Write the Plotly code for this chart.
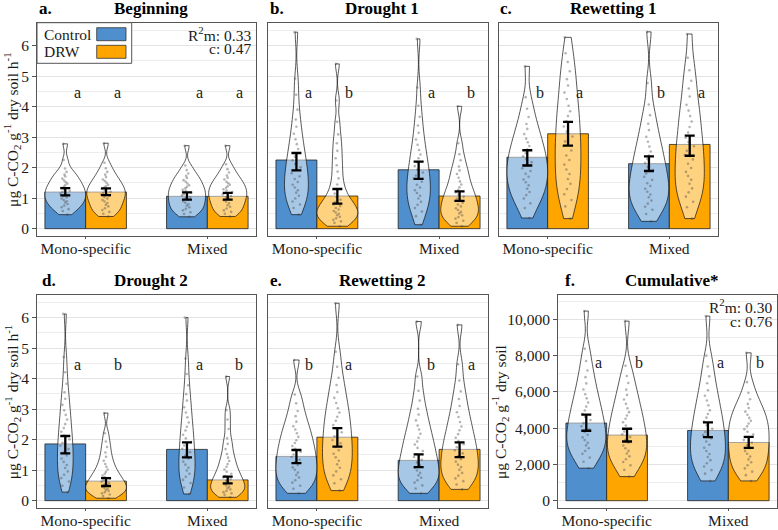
import plotly.graph_objects as go

# ---------------- data ----------------
groups = ["Mono-specific", "Mixed"]
treatments = ["Control", "DRW"]
panel_titles = ["Beginning", "Drought 1", "Rewetting 1", "Drought 2", "Rewetting 2", "Cumulative*"]
panel_tags = ["a.", "b.", "c.", "d.", "e.", "f."]

# bar heights (means) per panel a..f
ctrl_mono_mean = [1.20, 2.25, 2.34, 1.86, 1.45, 4283]
ctrl_mixed_mean = [1.06, 1.93, 2.13, 1.68, 1.32, 3874]
drw_mono_mean = [1.20, 1.07, 3.11, 0.64, 2.08, 3619]
drw_mixed_mean = [1.06, 1.07, 2.76, 0.68, 1.68, 3210]
# error bar limits
ctrl_mono_lo = [1.09, 1.91, 2.07, 1.55, 1.23, 3857]
ctrl_mono_hi = [1.33, 2.48, 2.57, 2.12, 1.66, 4743]
ctrl_mixed_lo = [0.95, 1.63, 1.89, 1.42, 1.10, 3509]
ctrl_mixed_hi = [1.19, 2.20, 2.37, 1.91, 1.52, 4317]
drw_mono_lo = [1.10, 0.82, 2.72, 0.48, 1.77, 3265]
drw_mono_hi = [1.32, 1.30, 3.50, 0.74, 2.38, 3968]
drw_mixed_lo = [0.95, 0.91, 2.39, 0.57, 1.43, 2917]
drw_mixed_hi = [1.17, 1.22, 3.05, 0.79, 1.91, 3525]

ctrl_letter = ["a", "a", "b", "a", "b", "a"]
drw_letter = ["a", "b", "a", "b", "a", "b"]
letter_y = [4.47, 4.47, 4.47, 4.47, 4.47, 7600]

r2_text = {0: ("0.33", "0.47"), 5: ("0.30", "0.76")}

# individual observations (read approximately from the violins / jittered points)
a_mono_ctrl = [0.46, 0.58, 0.64, 0.70, 0.76, 0.81, 0.86, 0.90, 0.94, 0.99, 1.03, 1.07, 1.11, 1.15, 1.20,
               1.24, 1.28, 1.33, 1.37, 1.42, 1.47, 1.52, 1.58, 1.64, 1.71, 1.77, 1.86, 1.97, 2.25, 2.78]
a_mono_drw = [0.40, 0.49, 0.55, 0.61, 0.67, 0.73, 0.78, 0.84, 0.89, 0.94, 0.99, 1.04, 1.08, 1.12, 1.17,
              1.21, 1.25, 1.30, 1.35, 1.39, 1.44, 1.50, 1.56, 1.61, 1.69, 1.77, 1.86, 1.98, 2.16, 2.80]
a_mixed_ctrl = [0.39, 0.48, 0.54, 0.60, 0.65, 0.70, 0.75, 0.80, 0.85, 0.90, 0.95, 0.99, 1.04, 1.09, 1.13,
                1.18, 1.23, 1.27, 1.32, 1.37, 1.42, 1.48, 1.54, 1.59, 1.66, 1.73, 1.81, 1.92, 2.07, 2.72]
a_mixed_drw = [0.40, 0.49, 0.55, 0.60, 0.66, 0.72, 0.77, 0.83, 0.88, 0.93, 0.98, 1.02, 1.07, 1.12, 1.16,
               1.20, 1.25, 1.29, 1.34, 1.39, 1.44, 1.49, 1.54, 1.61, 1.67, 1.74, 1.84, 1.95, 2.11, 2.72]

b_mono_ctrl = [0.46, 0.68, 0.79, 0.89, 0.99, 1.08, 1.18, 1.26, 1.35, 1.44, 1.53, 1.63, 1.72, 1.82, 1.91,
               2.01, 2.12, 2.24, 2.36, 2.47, 2.61, 2.77, 2.93, 3.11, 3.34, 3.58, 3.90, 4.39, 4.92, 6.44]
b_mono_drw = [0.08, 0.19, 0.24, 0.29, 0.34, 0.39, 0.44, 0.49, 0.53, 0.58, 0.63, 0.68, 0.74, 0.79, 0.87,
              0.95, 1.04, 1.15, 1.30, 1.45, 1.65, 1.87, 2.08, 2.31, 2.55, 2.80, 3.09, 3.50, 4.20, 5.40]
b_mixed_ctrl = [0.13, 0.41, 0.56, 0.68, 0.78, 0.88, 0.99, 1.08, 1.17, 1.26, 1.35, 1.44, 1.54, 1.64, 1.74,
                1.84, 1.94, 2.05, 2.18, 2.31, 2.43, 2.58, 2.75, 2.92, 3.14, 3.38, 3.67, 4.03, 4.63, 6.22]
b_mixed_drw = [0.08, 0.19, 0.26, 0.33, 0.38, 0.44, 0.50, 0.55, 0.61, 0.67, 0.73, 0.79, 0.85, 0.91, 0.98,
               1.05, 1.12, 1.19, 1.27, 1.36, 1.45, 1.55, 1.67, 1.79, 1.91, 2.04, 2.24, 2.44, 2.80, 4.01]

c_mono_ctrl = [0.35, 0.68, 0.83, 0.99, 1.10, 1.20, 1.31, 1.42, 1.52, 1.61, 1.70, 1.80, 1.89, 1.98, 2.08,
               2.18, 2.28, 2.37, 2.47, 2.59, 2.71, 2.83, 2.95, 3.10, 3.27, 3.43, 3.66, 3.93, 4.31, 5.32]
c_mono_drw = [0.33, 0.73, 0.94, 1.13, 1.30, 1.47, 1.63, 1.79, 1.94, 2.10, 2.25, 2.40, 2.56, 2.71, 2.86,
              3.02, 3.18, 3.35, 3.52, 3.69, 3.85, 4.03, 4.25, 4.46, 4.69, 4.90, 5.16, 5.46, 5.75, 6.27]
c_mixed_ctrl = [0.24, 0.48, 0.62, 0.72, 0.82, 0.92, 1.03, 1.12, 1.21, 1.31, 1.40, 1.49, 1.60, 1.70, 1.81,
                1.92, 2.02, 2.15, 2.28, 2.40, 2.53, 2.69, 2.85, 3.01, 3.23, 3.44, 3.72, 4.07, 4.77, 6.45]
c_mixed_drw = [0.33, 0.70, 0.88, 1.05, 1.19, 1.32, 1.47, 1.60, 1.73, 1.86, 1.99, 2.13, 2.27, 2.41, 2.55,
               2.70, 2.84, 2.98, 3.15, 3.33, 3.51, 3.69, 3.87, 4.06, 4.33, 4.59, 4.85, 5.19, 5.60, 6.38]

d_mono_ctrl = [0.28, 0.49, 0.63, 0.74, 0.85, 0.96, 1.07, 1.17, 1.27, 1.38, 1.48, 1.58, 1.69, 1.80, 1.90,
               2.01, 2.13, 2.26, 2.38, 2.51, 2.66, 2.81, 2.96, 3.14, 3.34, 3.55, 3.83, 4.21, 4.71, 6.12]
d_mono_drw = [0.08, 0.15, 0.20, 0.24, 0.28, 0.32, 0.35, 0.39, 0.42, 0.46, 0.50, 0.54, 0.58, 0.62, 0.67,
              0.72, 0.77, 0.82, 0.88, 0.95, 1.02, 1.11, 1.20, 1.31, 1.44, 1.58, 1.76, 1.94, 2.21, 2.87]
d_mixed_ctrl = [0.22, 0.43, 0.58, 0.68, 0.78, 0.88, 0.99, 1.08, 1.18, 1.28, 1.38, 1.48, 1.59, 1.70, 1.81,
                1.92, 2.04, 2.16, 2.30, 2.42, 2.56, 2.73, 2.89, 3.06, 3.28, 3.49, 3.78, 4.15, 4.66, 6.00]
d_mixed_drw = [0.11, 0.19, 0.24, 0.28, 0.32, 0.37, 0.41, 0.46, 0.50, 0.55, 0.59, 0.65, 0.70, 0.76, 0.81,
               0.88, 0.95, 1.02, 1.11, 1.20, 1.30, 1.41, 1.53, 1.69, 1.86, 2.04, 2.35, 2.66, 2.97, 4.07]

e_mono_ctrl = [0.24, 0.39, 0.49, 0.59, 0.67, 0.76, 0.84, 0.92, 1.01, 1.09, 1.17, 1.26, 1.34, 1.43, 1.51,
               1.60, 1.70, 1.79, 1.89, 1.98, 2.09, 2.21, 2.33, 2.44, 2.59, 2.77, 2.94, 3.19, 3.48, 4.61]
e_mono_drw = [0.33, 0.57, 0.70, 0.83, 0.96, 1.08, 1.19, 1.31, 1.42, 1.54, 1.65, 1.76, 1.88, 1.99, 2.11,
              2.24, 2.36, 2.48, 2.62, 2.75, 2.89, 3.03, 3.20, 3.37, 3.56, 3.79, 4.03, 4.39, 4.88, 6.47]
e_mixed_ctrl = [0.24, 0.40, 0.50, 0.59, 0.67, 0.75, 0.83, 0.91, 0.99, 1.08, 1.17, 1.25, 1.34, 1.43, 1.52,
                1.63, 1.73, 1.84, 1.94, 2.06, 2.19, 2.33, 2.46, 2.63, 2.82, 3.01, 3.28, 3.60, 4.07, 5.87]
e_mixed_drw = [0.37, 0.53, 0.64, 0.73, 0.82, 0.91, 1.01, 1.10, 1.18, 1.28, 1.36, 1.45, 1.55, 1.65, 1.75,
               1.85, 1.95, 2.06, 2.18, 2.31, 2.43, 2.58, 2.74, 2.90, 3.10, 3.33, 3.58, 3.94, 4.47, 5.76]

f_mono_ctrl = [1793, 2149, 2385, 2585, 2741, 2896, 3053, 3197, 3342, 3491, 3640, 3788, 3941, 4104, 4276,
               4453, 4625, 4797, 4974, 5190, 5415, 5646, 5871, 6137, 6471, 6814, 7185, 7708, 8378, 10460]
f_mono_drw = [1328, 1702, 1948, 2130, 2288, 2447, 2601, 2746, 2890, 3042, 3195, 3349, 3507, 3660, 3814,
              3972, 4149, 4331, 4519, 4702, 4884, 5096, 5341, 5585, 5837, 6124, 6494, 6876, 7440, 9906]
f_mixed_ctrl = [1090, 1492, 1686, 1884, 2066, 2235, 2408, 2577, 2745, 2918, 3089, 3263, 3442, 3616, 3789,
                3968, 4167, 4370, 4580, 4784, 4988, 5258, 5524, 5790, 6093, 6477, 6860, 7400, 8000, 10183]
f_mixed_drw = [1090, 1410, 1601, 1782, 1957, 2117, 2277, 2432, 2587, 2746, 2901, 3054, 3205, 3353, 3500,
               3652, 3799, 3946, 4101, 4252, 4404, 4568, 4740, 4911, 5115, 5338, 5594, 5948, 6538, 8157]

raw = [
    (a_mono_ctrl, a_mixed_ctrl, a_mono_drw, a_mixed_drw),
    (b_mono_ctrl, b_mixed_ctrl, b_mono_drw, b_mixed_drw),
    (c_mono_ctrl, c_mixed_ctrl, c_mono_drw, c_mixed_drw),
    (d_mono_ctrl, d_mixed_ctrl, d_mono_drw, d_mixed_drw),
    (e_mono_ctrl, e_mixed_ctrl, e_mono_drw, e_mixed_drw),
    (f_mono_ctrl, f_mixed_ctrl, f_mono_drw, f_mixed_drw),
]
# kernel bandwidths (mono ctrl, mixed ctrl, mono drw, mixed drw) per panel
bandwidths = [
    (0.16, 0.16, 0.16, 0.16),
    (0.38, 0.36, 0.24, 0.22),
    (0.38, 0.38, 0.48, 0.42),
    (0.35, 0.33, 0.17, 0.18),
    (0.26, 0.26, 0.38, 0.30),
    (600, 650, 600, 520),
]

# ---------------- styling / layout ----------------
W, H = 778, 530
FONT = "Liberation Serif, Times New Roman, serif"
COL = {"Control": "#4F8FCD", "DRW": "#FFA500"}
BORDER = "#555555"
TXT = "#1a1a1a"
GAP = 0.33

xdom_px = [(37, 256), (268, 488), (499, 718), (37, 256), (268, 488), (558, 777)]
ydom_px = [(22.7, 236), (22.7, 236), (22.7, 236), (295.3, 508.3), (295.3, 508.3), (295.3, 508.3)]
yranges = [[-0.24, 6.75]] * 3 + [[-0.25, 6.73]] * 2 + [[-420, 11330]]


def px(x):
    return x / W


def py(y):
    return 1 - y / H


fig = go.Figure()
annotations = []
shapes = []

for i in range(6):
    n = i + 1
    xa = "x" if n == 1 else f"x{n}"
    ya = "y" if n == 1 else f"y{n}"
    ag = f"p{n}"
    means = {"Control": [ctrl_mono_mean[i], ctrl_mixed_mean[i]],
             "DRW": [drw_mono_mean[i], drw_mixed_mean[i]]}
    los = {"Control": [ctrl_mono_lo[i], ctrl_mixed_lo[i]], "DRW": [drw_mono_lo[i], drw_mixed_lo[i]]}
    his = {"Control": [ctrl_mono_hi[i], ctrl_mixed_hi[i]], "DRW": [drw_mono_hi[i], drw_mixed_hi[i]]}

    for trt in treatments:
        fig.add_trace(go.Bar(x=groups, y=means[trt], name=trt, showlegend=False,
                             alignmentgroup=ag, offsetgroup=trt,
                             marker=dict(color=COL[trt], line=dict(color="#222222", width=0.8)),
                             xaxis=xa, yaxis=ya, hoverinfo="skip"))
    for j, (trt, g) in enumerate([("Control", groups[0]), ("Control", groups[1]),
                                  ("DRW", groups[0]), ("DRW", groups[1])]):
        v = raw[i][j]
        fig.add_trace(go.Violin(
            x=[g] * len(v), y=v, name=trt, showlegend=False, xaxis=xa, yaxis=ya,
            alignmentgroup=ag, offsetgroup=trt, bandwidth=bandwidths[i][j],
            scalegroup=ag, scalemode="width", spanmode="hard",
            fillcolor="rgba(255,255,255,0.5)", line=dict(color="#111111", width=0.7),
            points="all", pointpos=0, jitter=0.25,
            marker=dict(size=2.6, color="rgba(70,70,70,0.4)"),
            box_visible=False, meanline_visible=False, hoveron="points"))
    for trt in treatments:
        m = means[trt]
        fig.add_trace(go.Scatter(
            x=groups, y=m, mode="markers", name=trt, showlegend=False, xaxis=xa, yaxis=ya,
            alignmentgroup=ag, offsetgroup=trt,
            marker=dict(size=1, color="rgba(0,0,0,0)"),
            error_y=dict(type="data", symmetric=False,
                         array=[his[trt][k] - m[k] for k in range(2)],
                         arrayminus=[m[k] - los[trt][k] for k in range(2)],
                         color="black", thickness=2.3, width=5)))

    # letters
    for k, g in enumerate(groups):
        annotations.append(dict(x=g, y=letter_y[i], xref=xa, yref=ya, text=ctrl_letter[i], showarrow=False,
                                xshift=-8, font=dict(family=FONT, size=16, color=TXT)))
        annotations.append(dict(x=g, y=letter_y[i], xref=xa, yref=ya, text=drw_letter[i], showarrow=False,
                                xshift=32, font=dict(family=FONT, size=16, color=TXT)))

    x0, x1 = xdom_px[i]
    y0, y1 = ydom_px[i]
    show_y = i in (0, 3, 5)
    fig.layout[f"xaxis{n if n > 1 else ''}"] = dict(
        domain=[px(x0), px(x1)], anchor=ya, type="category", categoryorder="array", categoryarray=groups,
        range=[-0.4, 1.4], showgrid=False, zeroline=False, showline=True, mirror=True, linecolor=BORDER,
        linewidth=1, ticks="outside", ticklen=2, tickcolor=BORDER, ticklabelstandoff=-4,
        tickfont=dict(family=FONT, size=15.5, color=TXT), automargin=False, fixedrange=True)
    ydict = dict(
        domain=[py(y1), py(y0)], anchor=xa, range=yranges[i], showgrid=True, gridcolor="#e3e3e3",
        gridwidth=1, zeroline=False, showline=True, mirror=True, linecolor=BORDER, linewidth=1,
        ticks="outside" if show_y else "", ticklen=4, tickcolor=BORDER, showticklabels=show_y,
        tickfont=dict(family=FONT, size=15.5, color=TXT), automargin=False, fixedrange=True)
    if i == 5:
        ydict.update(tick0=0, dtick=2000, tickformat=",d",
                     minor=dict(dtick=1000, tick0=0, showgrid=True, gridcolor="#ededed", gridwidth=0.7))
    else:
        ydict.update(tick0=0, dtick=1,
                     minor=dict(dtick=0.5, tick0=0, showgrid=True, gridcolor="#ededed", gridwidth=0.7))
    fig.layout[f"yaxis{n if n > 1 else ''}"] = ydict

    # panel tag and title
    title_y = y0 - 14.5
    tag_x = [37, 268, 498, 40, 268, 563][i]
    annotations.append(dict(x=px(tag_x), y=py(title_y), xref="paper", yref="paper", xanchor="left",
                            yanchor="middle", text=f"<b>{panel_tags[i]}</b>", showarrow=False,
                            font=dict(family=FONT, size=17, color="black")))
    annotations.append(dict(x=px((x0 + x1) / 2 + 4), y=py(title_y), xref="paper", yref="paper",
                            xanchor="center", yanchor="middle", text=f"<b>{panel_titles[i]}</b>",
                            showarrow=False, font=dict(family=FONT, size=17, color="black")))

    if i in r2_text:
        r2, cval = r2_text[i]
        annotations.append(dict(x=px(x1 - 3), y=py(y0 + 11), xref="paper", yref="paper", xanchor="right",
                                yanchor="middle", text=f"R<sup>2</sup>m: {r2}", showarrow=False,
                                font=dict(family=FONT, size=15.5, color=TXT)))
        annotations.append(dict(x=px(x1 - 3), y=py(y0 + 26), xref="paper", yref="paper", xanchor="right",
                                yanchor="middle", text=f"c: {cval}", showarrow=False,
                                font=dict(family=FONT, size=15.5, color=TXT)))

# y axis titles
ytitle_h = "μg C-CO<sub>2</sub> g<sup>-1</sup> dry soil h<sup>-1</sup>"
ytitle = "μg C-CO<sub>2</sub> g<sup>-1</sup> dry soil"
for (xc, yc, t) in [(12.5, 129.4, ytitle_h), (12.5, 401.8, ytitle_h), (500, 412, ytitle)]:
    annotations.append(dict(x=px(xc), y=py(yc), xref="paper", yref="paper", xanchor="center",
                            yanchor="middle", text=t, textangle=-90, showarrow=False,
                            font=dict(family=FONT, size=15.5, color=TXT)))

# legend (inside panel a)
shapes.append(dict(type="rect", xref="paper", yref="paper", x0=px(37), x1=px(131.7), y0=py(63.3), y1=py(22.7),
                   line=dict(color=BORDER, width=1), fillcolor="white", layer="above"))
for trt, (ya0, ya1) in zip(treatments, [(27.7, 40.7), (45.3, 58.3)]):
    shapes.append(dict(type="rect", xref="paper", yref="paper", x0=px(96.7), x1=px(126), y0=py(ya1),
                       y1=py(ya0), line=dict(color="#333333", width=0.8), fillcolor=COL[trt], layer="above"))
    annotations.append(dict(x=px(41.5), y=py((ya0 + ya1) / 2), xref="paper", yref="paper", xanchor="left",
                            yanchor="middle", text=trt, showarrow=False,
                            font=dict(family=FONT, size=15.5, color=TXT)))

fig.update_layout(
    width=W, height=H, autosize=False, margin=dict(l=0, r=0, t=0, b=0),
    paper_bgcolor="white", plot_bgcolor="white",
    barmode="group", bargap=GAP, bargroupgap=0,
    violinmode="group", violingap=GAP, violingroupgap=0,
    scattermode="group", scattergap=GAP,
    showlegend=False, annotations=annotations, shapes=shapes,
    font=dict(family=FONT, size=15.5, color=TXT),
)

fig.write_html("out.html", config={"displayModeBar": False},
               post_script="document.body.style.margin='0';document.body.style.padding='0';"
                           "document.body.style.overflow='hidden';")
